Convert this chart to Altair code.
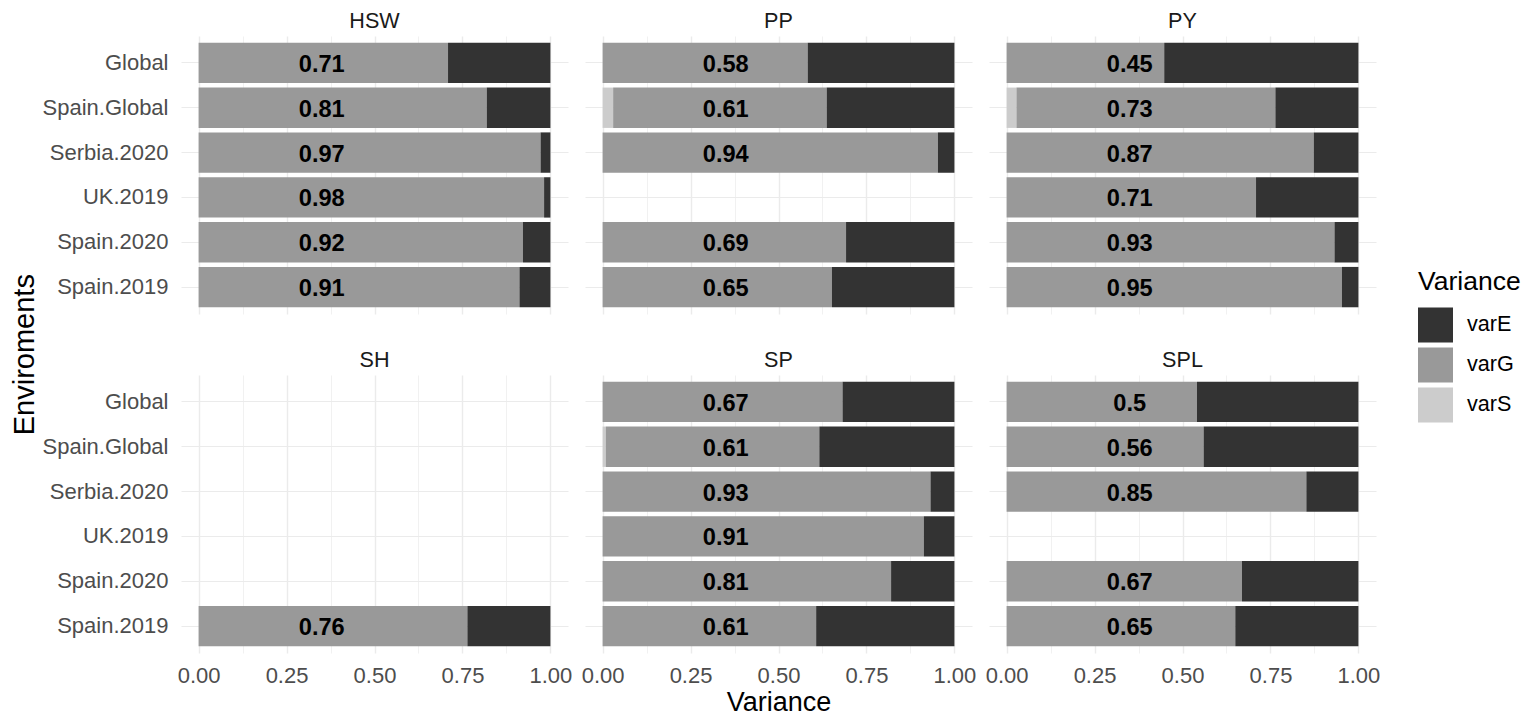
import altair as alt
import pandas as pd

TRAITS = ["HSW", "PP", "PY", "SH", "SP", "SPL"]
ENVS = ["Global", "Spain.Global", "Serbia.2020", "UK.2019", "Spain.2020", "Spain.2019"]

# per trait, values in ENVS order (None = environment not present)
VAR_S = {
    "HSW": [0, 0, 0, 0, 0, 0],
    "PP":  [0, 0.030, 0, None, 0, 0],
    "PY":  [0, 0.028, 0, 0, 0, 0],
    "SH":  [None, None, None, None, None, 0],
    "SP":  [0, 0.009, 0, 0, 0, 0],
    "SPL": [0, 0, 0, None, 0, 0],
}
VAR_G = {
    "HSW": [0.709, 0.819, 0.972, 0.982, 0.922, 0.912],
    "PP":  [0.583, 0.607, 0.953, None, 0.692, 0.652],
    "PY":  [0.448, 0.736, 0.873, 0.709, 0.932, 0.953],
    "SH":  [None, None, None, None, None, 0.764],
    "SP":  [0.682, 0.607, 0.932, 0.913, 0.820, 0.607],
    "SPL": [0.541, 0.560, 0.852, None, 0.669, 0.650],
}
VAR_E = {
    "HSW": [0.291, 0.181, 0.028, 0.018, 0.078, 0.088],
    "PP":  [0.417, 0.363, 0.047, None, 0.308, 0.348],
    "PY":  [0.552, 0.236, 0.127, 0.291, 0.068, 0.047],
    "SH":  [None, None, None, None, None, 0.236],
    "SP":  [0.318, 0.384, 0.068, 0.087, 0.180, 0.393],
    "SPL": [0.459, 0.440, 0.148, None, 0.331, 0.350],
}
LABELS = {
    "HSW": [0.71, 0.81, 0.97, 0.98, 0.92, 0.91],
    "PP":  [0.58, 0.61, 0.94, None, 0.69, 0.65],
    "PY":  [0.45, 0.73, 0.87, 0.71, 0.93, 0.95],
    "SH":  [None, None, None, None, None, 0.76],
    "SP":  [0.67, 0.61, 0.93, 0.91, 0.81, 0.61],
    "SPL": [0.5, 0.56, 0.85, None, 0.67, 0.65],
}
COMPONENTS = ["varS", "varG", "varE"]
LEGEND_ORDER = ["varE", "varG", "varS"]
COLORS = ["#333333", "#999999", "#CCCCCC"]
LABEL_POS = 0.35
X_TICKS = [0, 0.125, 0.25, 0.375, 0.5, 0.625, 0.75, 0.875, 1.0]

rows = []
for t in TRAITS:
    for i, env in enumerate(ENVS):
        for k, (comp, src) in enumerate(zip(COMPONENTS, [VAR_S, VAR_G, VAR_E])):
            v = src[t][i]
            if v is None:
                continue
            lab = LABELS[t][i] if comp == "varG" else None
            rows.append({"trait": t, "env": env, "variance": comp,
                         "value": v, "ord": k, "label": lab})
df = pd.DataFrame(rows)

FONT = "Liberation Sans"

xscale = alt.Scale(domain=[-0.05, 1.05], nice=False, zero=False)
yenc = alt.Y("env:N", sort=ENVS,
             scale=alt.Scale(paddingInner=0.1, paddingOuter=0.15),
             axis=alt.Axis(title=None, grid=True, bandPosition=0.5,
                           ticks=False, domain=False, labelPadding=13))

bars = alt.Chart().mark_bar().encode(
    x=alt.X("value:Q", stack="zero", scale=xscale,
            axis=alt.Axis(title=None, values=X_TICKS,
                          labelExpr="(datum.value*4) % 1 == 0 ? format(datum.value, '.2f') : ''",
                          gridWidth={"condition": {"test": "(datum.value*4) % 1 != 0", "value": 0.7},
                                     "value": 1.4},
                          ticks=False, domain=False, labelPadding=12)),
    y=yenc,
    color=alt.Color("variance:N",
                    scale=alt.Scale(domain=LEGEND_ORDER, range=COLORS),
                    legend=alt.Legend(title="Variance", orient="none",
                                      legendX=1237, legendY=233,
                                      symbolType="square", symbolSize=1225,
                                      symbolStrokeWidth=0, symbolOpacity=1,
                                      labelFontSize=21.6, titleFontSize=26.5,
                                      titleFontWeight="normal", titleColor="#000000",
                                      labelColor="#000000", rowPadding=5,
                                      labelOffset=14, titlePadding=12,
                                      labelFont=FONT, titleFont=FONT)),
    order=alt.Order("ord:Q", sort="ascending"),
)

text = alt.Chart().transform_filter(
    "datum.label != null"
).mark_text(fontWeight="bold", fontSize=23.6, color="#000000", font=FONT,
            align="center", baseline="middle", dy=2).encode(
    x=alt.datum(LABEL_POS),
    y=alt.Y("env:N", sort=ENVS),
    text=alt.Text("label:N"),
)

chart = alt.layer(bars, text, data=df).properties(width=387, height=278).facet(
    facet=alt.Facet("trait:N", sort=TRAITS, title="Variance",
                    header=alt.Header(titleOrient="bottom", labelOrient="top",
                                      titleFontSize=27, titleColor="#000000",
                                      titleFont=FONT, titleFontWeight="normal",
                                      titlePadding=4,
                                      labelFontSize=21.6, labelColor="#1a1a1a",
                                      labelPadding=3, labelFont=FONT)),
    columns=3,
    spacing={"row": 36, "column": 17},
).properties(
    padding={"top": 3, "left": 3, "right": 0, "bottom": 0}, background="white",
    title=alt.TitleParams("Enviroments", orient="left", anchor="middle",
                          fontSize=29, font=FONT, fontWeight="normal",
                          color="#000000", offset=2, dx=9),
).configure_view(stroke=None).configure_axis(
    labelFont=FONT, labelFontSize=22,
    labelColor="#4D4D4D", gridColor="#EBEBEB",
)

chart.save("out.html", embed_options={"renderer": "svg", "actions": False})
